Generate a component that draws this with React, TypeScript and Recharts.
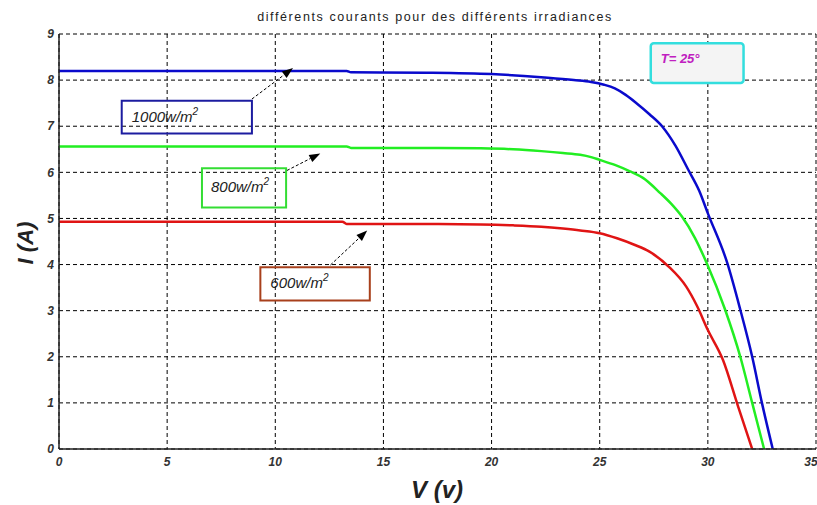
import {
  LineChart,
  Line,
  XAxis,
  YAxis,
  CartesianGrid,
  ReferenceArea,
  ReferenceLine,
} from "recharts";

// I-V curves: [V, I]
const g1000: [number, number][] = [
  [0, 8.2], [13.3, 8.2], [13.5, 8.17], [17, 8.16], [20, 8.13], [21.5, 8.09], [22.6, 8.05],
  [23.8, 8.0], [24.6, 7.96], [25.2, 7.9], [25.7, 7.82], [26.2, 7.68], [26.7, 7.5],
  [27.3, 7.26], [27.9, 6.99], [28.5, 6.58], [29.1, 6.05], [29.6, 5.6], [30, 5.11],
  [30.9, 4.03], [31.5, 3.02], [32.05, 2.0], [32.5, 1.0], [33.0, 0],
];
const g800: [number, number][] = [
  [0, 6.56], [13.3, 6.56], [13.5, 6.53], [17, 6.53], [19.5, 6.52], [21, 6.5], [22.3, 6.46],
  [23.3, 6.42], [24.1, 6.38], [24.6, 6.33], [25, 6.27], [25.7, 6.16], [26.4, 6.02],
  [27.0, 5.88], [27.8, 5.55], [28.3, 5.32], [28.8, 5.04], [29.4, 4.58], [29.95, 4.03],
  [30.8, 3.02], [31.5, 2.0], [32.05, 1.0], [32.6, 0],
];
const g600: [number, number][] = [
  [0, 4.93], [13.1, 4.93], [13.3, 4.88], [17, 4.88], [19.5, 4.87], [21, 4.85], [22.3, 4.82],
  [23.3, 4.78], [24.1, 4.74], [25, 4.68], [25.8, 4.57], [26.6, 4.43], [27.3, 4.28],
  [28.2, 3.95], [29.0, 3.52], [29.5, 3.1], [30, 2.58], [30.7, 1.93], [31.4, 0.92], [32.05, 0],
];

const xTicks = [0, 5, 10, 15, 20, 25, 30, 35];
const yTicks = [0, 1, 2, 3, 4, 5, 6, 7, 8, 9];

const toRows = (pts: [number, number][]) => pts.map(([v, i]) => ({ v, i }));

const tickStyle = {
  fontSize: 12,
  fontWeight: "bold",
  fontStyle: "italic",
  fill: "#333",
  fontFamily: "Liberation Sans, Arial, sans-serif",
};

// dashed arrow with a filled head
const Arrow = (props: any) => {
  const { x1, y1, x2, y2 } = props;
  const a = Math.atan2(y2 - y1, x2 - x1);
  const L = 11;
  const W = 4;
  const bx = x2 - L * Math.cos(a);
  const by = y2 - L * Math.sin(a);
  const nx = -Math.sin(a) * W;
  const ny = Math.cos(a) * W;
  return (
    <g>
      <line x1={x1} y1={y1} x2={bx} y2={by} stroke="#000" strokeWidth={1} strokeDasharray="3 2" />
      <polygon points={`${x2},${y2} ${bx + nx},${by + ny} ${bx - nx},${by - ny}`} fill="#000" />
    </g>
  );
};

const boxLabel = (txt: string, dx: number, dy: number, sup = true, color = "#222", extra: any = {}) =>
  (p: any) => {
    const vb = p.viewBox;
    return (
      <text
        x={vb.x + dx}
        y={vb.y + dy}
        fontSize={15}
        fontStyle="italic"
        fill={color}
        fontFamily="Liberation Sans, Arial, sans-serif"
        {...extra}
      >
        {txt}
        {sup && (
          <tspan dy={-7} fontSize={10}>
            2
          </tspan>
        )}
      </text>
    );
  };

export default function App() {
  return (
    <div style={{ position: "absolute", left: 0, top: 0, width: 817, height: 505, background: "#fff" }}>
      <LineChart width={817} height={505} margin={{ top: 34, right: 1, bottom: 16, left: 29 }}>
        <CartesianGrid stroke="#000" strokeDasharray="4 3" strokeWidth={1} />
        <XAxis
          type="number"
          dataKey="v"
          domain={[0, 35]}
          ticks={xTicks}
          height={40}
          tickSize={0}
          tickMargin={8}
          tick={tickStyle}
          axisLine={{ stroke: "#222", strokeWidth: 1.5 }}
          tickLine={false}
        />
        <YAxis
          type="number"
          dataKey="i"
          domain={[0, 9]}
          ticks={yTicks}
          width={30}
          tickSize={0}
          tickMargin={5}
          tick={tickStyle}
          axisLine={{ stroke: "#222", strokeWidth: 1.5 }}
          tickLine={false}
        />

        <Line type="monotone" data={toRows(g1000)} dataKey="i" stroke="#0a0acc" strokeWidth={2.5} dot={false} isAnimationActive={false} />
        <Line type="monotone" data={toRows(g800)} dataKey="i" stroke="#22ee22" strokeWidth={2.5} dot={false} isAnimationActive={false} />
        <Line type="monotone" data={toRows(g600)} dataKey="i" stroke="#e01414" strokeWidth={2.5} dot={false} isAnimationActive={false} />

        {/* annotation boxes */}
        <ReferenceArea x1={2.9} x2={8.92} y1={6.84} y2={7.55} fill="none" stroke="#1c1ca0" strokeWidth={2}
          label={{ content: boxLabel("1000w/m", 10, 21) }} />
        <ReferenceArea x1={6.61} x2={10.5} y1={5.24} y2={6.09} fill="none" stroke="#33dd33" strokeWidth={2}
          label={{ content: boxLabel("800w/m", 9, 24) }} />
        <ReferenceArea x1={9.31} x2={14.37} y1={3.22} y2={3.94} fill="none" stroke="#a8401c" strokeWidth={2}
          label={{ content: boxLabel("600w/m", 10, 21) }} />
        <ReferenceArea x1={27.36} x2={31.65} y1={7.94} y2={8.8} fill="#f4f4f4" fillOpacity={1} stroke="#33dede"
          strokeWidth={2.5} radius={3}
          label={{ content: boxLabel("T= 25°", 10, 20, false, "#c020c0", { fontWeight: "bold", fontSize: 13 }) }} />

        {/* arrows */}
        <ReferenceLine segment={[{ x: 8.92, y: 7.59 }, { x: 10.82, y: 8.26 }]} shape={Arrow} />
        <ReferenceLine segment={[{ x: 10.54, y: 6.04 }, { x: 12.08, y: 6.41 }]} shape={Arrow} />
        <ReferenceLine segment={[{ x: 12.55, y: 3.99 }, { x: 14.25, y: 4.74 }]} shape={Arrow} />
      </LineChart>

      <svg width={817} height={505} style={{ position: "absolute", left: 0, top: 0, pointerEvents: "none" }}>
        <text x={435} y={21} textAnchor="middle" fontSize={12.5} letterSpacing={1.6} fill="#222"
          fontFamily="Liberation Sans, Arial, sans-serif">
          différents courants pour des différents irradiances
        </text>
        <text x={0} y={0} transform="translate(33,243) rotate(-90)" textAnchor="middle" fontSize={22}
          fontWeight="bold" fontStyle="italic" fill="#222" fontFamily="Liberation Sans, Arial, sans-serif">
          I (A)
        </text>
        <text x={437} y={498} textAnchor="middle" fontSize={24} fontWeight="bold" fontStyle="italic" fill="#222"
          fontFamily="Liberation Sans, Arial, sans-serif">
          V (v)
        </text>
      </svg>
    </div>
  );
}
